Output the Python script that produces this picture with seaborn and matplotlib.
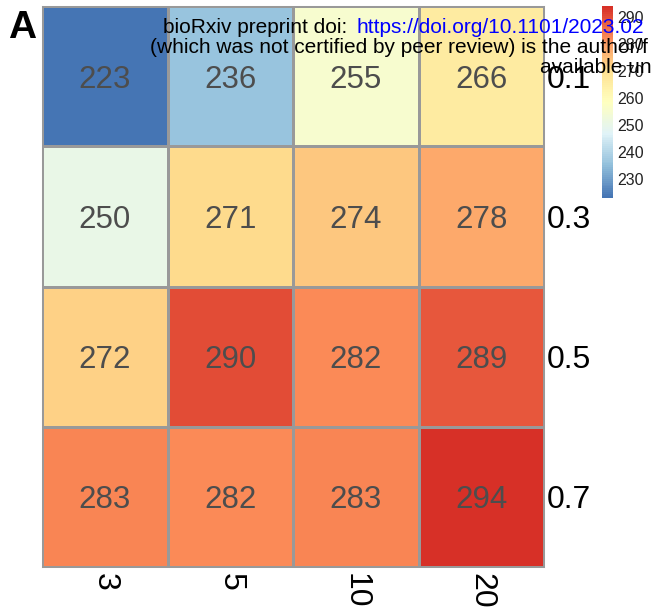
import numpy as np
import pandas as pd
import seaborn as sns
import matplotlib.pyplot as plt
from matplotlib.colors import LinearSegmentedColormap

# Grid of results: rows are rates, columns are sizes
col_labels = ["3", "5", "10", "20"]
row_labels = ["0.1", "0.3", "0.5", "0.7"]
row_01 = [223, 236, 255, 266]
row_03 = [250, 271, 274, 278]
row_05 = [272, 290, 282, 289]
row_07 = [283, 282, 283, 294]
cbar_ticks = [230, 240, 250, 260, 270, 280, 290]

df = pd.DataFrame([row_01, row_03, row_05, row_07], index=row_labels, columns=col_labels)

# pheatmap-style palette: reversed RdYlBu (7 classes) interpolated
ramp = ["#4575B4", "#91BFDB", "#E0F3F8", "#FFFFBF", "#FEE090", "#FC8D59", "#D73027"]
cmap = LinearSegmentedColormap.from_list("rdylbu_r", ramp, N=100)

sns.set_theme(style="white")
plt.rcParams["font.family"] = ["Liberation Sans", "DejaVu Sans"]

fig = plt.figure(figsize=(6.53, 6.13), dpi=100)
ax = fig.add_axes([42 / 653, 1 - 567 / 613, 502 / 653, 561 / 613])
cax = fig.add_axes([602 / 653, 1 - 198 / 613, 11 / 653, 192 / 613])

sns.heatmap(
    df, ax=ax, cbar_ax=cax, cmap=cmap,
    vmin=df.values.min(), vmax=df.values.max(),
    annot=True, fmt="d",
    annot_kws={"fontsize": 22.5, "color": "#4D4D4D"},
    linewidths=0.75, linecolor="#999999",
    cbar_kws={"ticks": cbar_ticks},
)
# nudge the cell numbers down a little so they sit in the middle
for t in ax.texts:
    x, y = t.get_position()
    t.set_position((x, y + 0.025))

# outer border of the grid
for s in ax.spines.values():
    s.set_visible(True)
    s.set_edgecolor("#999999")
    s.set_linewidth(0.75)

ax.yaxis.tick_right()
ax.set_yticklabels(row_labels, rotation=0, fontsize=23, color="black")
ax.set_xticklabels(col_labels, rotation=-90, fontsize=23, color="black")
ax.tick_params(axis="both", length=0, pad=2)
ax.tick_params(axis="x", pad=4)
ax.set_xlabel("")
ax.set_ylabel("")

cax.tick_params(labelsize=11.5, length=0, pad=3, colors="#222222")
for s in cax.spines.values():
    s.set_visible(False)

fig.text(8 / 653, 1 - 38 / 613, "A", fontsize=28, fontweight="bold", color="black")

# preprint banner across the top
fs = 15
fig.text(163 / 653, 1 - 33 / 613, "bioRxiv preprint doi: ", fontsize=fs,
         color="black", va="baseline")
fig.text(357 / 653, 1 - 33 / 613, "https://doi.org/10.1101/2023.02", fontsize=fs,
         color="blue", va="baseline")
fig.text(150 / 653, 1 - 53 / 613,
         "(which was not certified by peer review) is the author/f",
         fontsize=fs, color="black", va="baseline")
fig.text(540 / 653, 1 - 73 / 613, "available un", fontsize=fs,
         color="black", va="baseline")

fig.savefig("out.png", dpi=100)
